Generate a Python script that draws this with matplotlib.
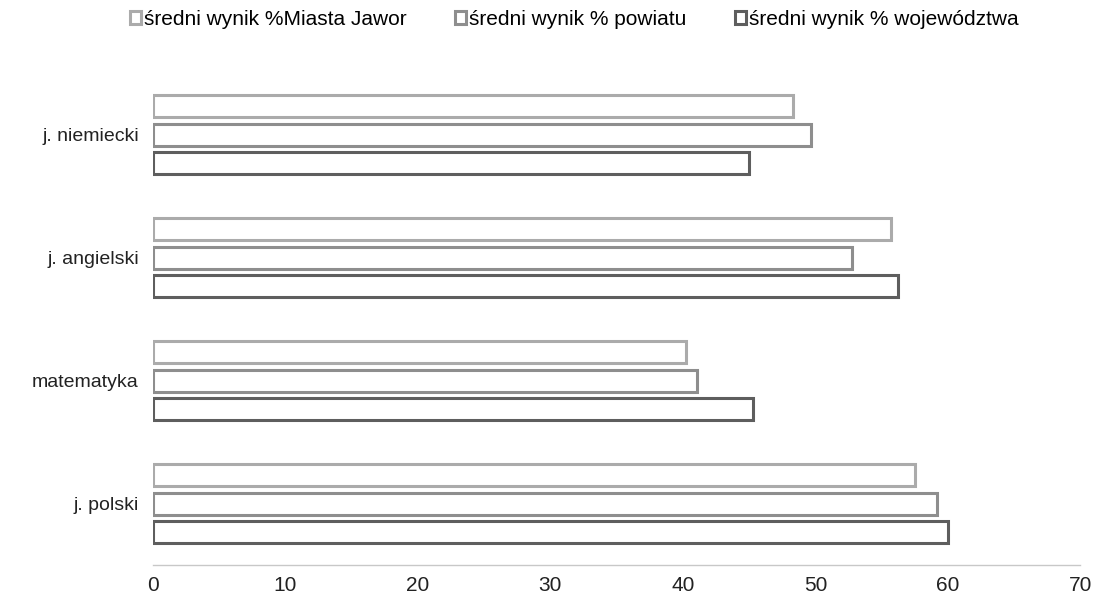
import numpy as np
import matplotlib.pyplot as plt

plt.rcParams['font.family'] = ['Liberation Sans', 'DejaVu Sans']

categories = ['j. polski', 'matematyka', 'j. angielski', 'j. niemiecki']
series_names = ['średni wynik %Miasta Jawor', 'średni wynik % powiatu',
                'średni wynik % województwa']
miasto = [57.5, 40.2, 55.7, 48.3]
powiat = [59.2, 41.1, 52.8, 49.7]
wojewodztwo = [60.0, 45.3, 56.2, 45.0]
x_ticks = [0, 10, 20, 30, 40, 50, 60, 70]

edge_colors = ['#ababab', '#8e8e8e', '#5e5e5e']

fig = plt.figure(figsize=(11.15, 6.05), dpi=100)
ax = fig.add_axes([0.137, 0.066, 0.832, 0.813])

y = np.arange(len(categories))
step = 0.232
h = 0.18
for i, (vals, name, ec) in enumerate(zip([miasto, powiat, wojewodztwo],
                                         series_names, edge_colors)):
    ax.barh(y + (1 - i) * step, vals, height=h, color='white',
            edgecolor=ec, linewidth=2.2, label=name)

ax.set_ylim(-0.5, len(categories) - 0.5)
ax.set_xlim(0, 70)
ax.set_xticks(x_ticks)
ax.set_yticks(y)
ax.set_yticklabels(categories)
ax.tick_params(axis='both', length=0, colors='#222222')
ax.tick_params(axis='x', pad=8, labelsize=15)
ax.tick_params(axis='y', pad=10, labelsize=14)

for s in ['top', 'right', 'left']:
    ax.spines[s].set_visible(False)
ax.spines['bottom'].set_color('#c8c8c8')
ax.spines['bottom'].set_linestyle((0, (2, 1)))
ax.spines['bottom'].set_linewidth(1.0)

handles, labels = ax.get_legend_handles_labels()
fig.legend(handles, labels, loc='center', bbox_to_anchor=(0.515, 0.968),
           ncol=3, frameon=False, fontsize=15, handlelength=0.55,
           handleheight=0.55, handletextpad=0.15, columnspacing=2.3)

plt.savefig('out.png', dpi=100)
